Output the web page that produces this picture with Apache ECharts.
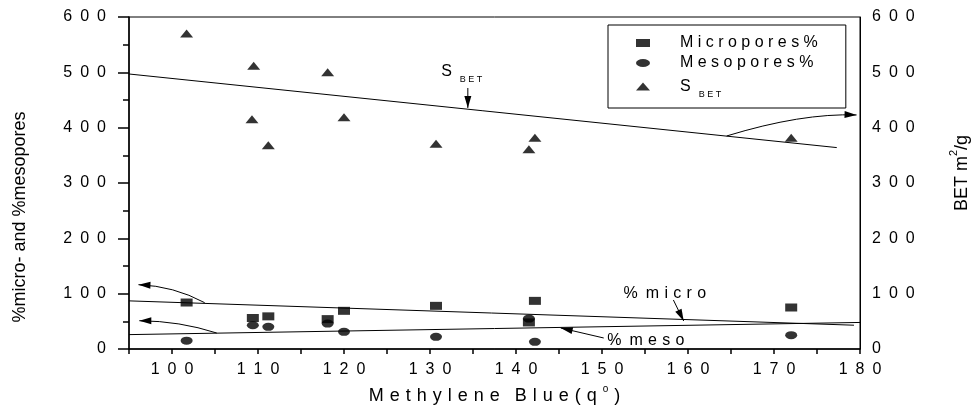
<!DOCTYPE html>
<html>
<head>
<meta charset="utf-8">
<script src="https://cdn.jsdelivr.net/npm/echarts@6/dist/echarts.min.js"></script>
<style>
  html, body { margin: 0; padding: 0; background: #fff; }
  #chart { width: 975px; height: 414px; }
</style>
</head>
<body>
<div id="chart"></div>
<script>
// values: Methylene Blue (x) vs pore fraction / BET area
const microMB = [101.7, 109.4, 111.2, 118.1, 120.0, 130.7, 142.2, 141.5, 172];
const microPct = [84, 56, 59, 54, 69, 78, 87, 48, 75];
const mesoMB = [101.7, 109.4, 111.2, 118.1, 120.0, 130.7, 142.2, 141.5, 172];
const mesoPct = [15, 43, 40, 46, 31, 22, 13, 55, 25];
const sbetMB = [101.7, 109.5, 118.1, 109.3, 111.2, 120.0, 130.7, 142.2, 141.5, 172];
const sbetVal = [570, 512, 500, 415, 368, 419, 371, 382, 361, 382];
// linear fits (end points)
const microFit = [[95, 87], [179.3, 43]];
const mesoFit = [[95, 26], [180, 48]];
const sbetFit = [[95, 497], [177.3, 364]];
const yTicks = [0, 100, 200, 300, 400, 500, 600];

const FONT = 'Liberation Sans, Arial, sans-serif';
const spaced = v => String(v).split('').join('\u2002');
const ellipse = 'path://M0,1a1,1 0 1,0 2,0a1,1 0 1,0 -2,0z';
const pairs = (xs, ys) => xs.map((x, i) => [x, ys[i]]);

const chart = echarts.init(document.getElementById('chart'));

const option = {
  animation: false,
  backgroundColor: '#fff',
  textStyle: { fontFamily: FONT, color: '#000' },
  grid: {
    left: 129, right: 115, top: 17, bottom: 65,
    show: true, borderColor: '#000', borderWidth: 1
  },
  legend: {
    orient: 'vertical',
    left: 608, top: 25,
    padding: [9, 28, 9, 28],
    borderColor: '#000', borderWidth: 1,
    itemWidth: 14, itemHeight: 8, itemGap: 2,
    symbolKeepAspect: false,
    data: [
      { name: 'Micropores%', icon: 'rect' },
      { name: 'Mesopores%', icon: ellipse },
      { name: 'SBET', icon: 'triangle' }
    ],
    formatter: name => name === 'SBET'
      ? '{s|S}{sub|B E T}'
      : name.split('').join(' '),
    textStyle: {
      fontFamily: FONT, fontSize: 16, color: '#000', lineHeight: 18,
      padding: [0, 0, 0, 25],
      rich: {
        s: { fontFamily: FONT, fontSize: 16, color: '#000', lineHeight: 18 },
        sub: { fontFamily: FONT, fontSize: 9, color: '#000', lineHeight: 9, padding: [16, 0, 0, 8] }
      }
    }
  },
  xAxis: {
    type: 'value',
    min: 95, max: 180, interval: 5,
    name: 'M\u2004e\u2004t\u2004h\u2004y\u2004l\u2004e\u2004n\u2004e\u2002\u2004B\u2004l\u2004u\u2004e\u2004(\u2004q\u2004{sup|o}\u2004)',
    nameLocation: 'middle', nameGap: 38,
    nameTextStyle: {
      fontFamily: FONT, fontSize: 18, color: '#000',
      rich: { sup: { fontFamily: FONT, fontSize: 10, color: '#000', lineHeight: 10, padding: [0, 0, 14, 0] } }
    },
    axisLine: { lineStyle: { color: '#000', width: 1.5 } },
    axisTick: { length: 5, lineStyle: { color: '#000', width: 1.5 } },
    axisLabel: {
      margin: 13, fontSize: 16, color: '#000', fontFamily: FONT,
      formatter: v => (v % 10 === 0 ? spaced(v) : '')
    },
    splitLine: { show: false }
  },
  yAxis: [{
    type: 'value',
    min: yTicks[0], max: yTicks[yTicks.length - 1], interval: 100,
    axisLine: { show: true, lineStyle: { color: '#000', width: 1.5 } },
    axisTick: { length: 11, lineStyle: { color: '#000', width: 1.5 } },
    minorTick: { show: true, splitNumber: 2, length: 6, lineStyle: { color: '#000', width: 1.5 } },
    axisLabel: { margin: 23, fontSize: 16, color: '#000', fontFamily: FONT, formatter: spaced },
    splitLine: { show: false }
  }, {
    type: 'value',
    position: 'right',
    min: yTicks[0], max: yTicks[yTicks.length - 1], interval: 100,
    axisLine: { show: true, lineStyle: { color: '#000', width: 1 } },
    axisTick: { show: false },
    axisLabel: { margin: 12, fontSize: 16, color: '#000', fontFamily: FONT, formatter: spaced },
    splitLine: { show: false }
  }],
  series: [{
    name: 'Micropores%', type: 'scatter',
    symbol: 'rect', symbolSize: [12, 8],
    itemStyle: { color: '#000' },
    data: pairs(microMB, microPct)
  }, {
    name: 'Mesopores%', type: 'scatter',
    symbol: ellipse, symbolSize: [12, 8],
    itemStyle: { color: '#000' },
    data: pairs(mesoMB, mesoPct)
  }, {
    name: 'SBET', type: 'scatter', yAxisIndex: 1,
    symbol: 'triangle', symbolSize: [13, 8],
    itemStyle: { color: '#000' },
    data: pairs(sbetMB, sbetVal)
  }, {
    name: 'micro fit', type: 'line', showSymbol: false, silent: true,
    lineStyle: { color: '#000', width: 1 }, data: microFit
  }, {
    name: 'meso fit', type: 'line', showSymbol: false, silent: true,
    lineStyle: { color: '#000', width: 1 }, data: mesoFit
  }, {
    name: 'SBET fit', type: 'line', yAxisIndex: 1, showSymbol: false, silent: true,
    lineStyle: { color: '#000', width: 1 }, data: sbetFit
  }]
};
chart.setOption(option);

// annotation arrows and labels, anchored in data coordinates
const toPx = p => chart.convertToPixel({ xAxisIndex: 0, yAxisIndex: 0 }, p);

function arrowHead(tip, prev) {
  let dx = tip[0] - prev[0], dy = tip[1] - prev[1];
  const len = Math.sqrt(dx * dx + dy * dy) || 1;
  dx /= len; dy /= len;
  const L = 12, W = 3.5;
  const bx = tip[0] - dx * L, by = tip[1] - dy * L;
  return {
    type: 'polygon', silent: true,
    shape: { points: [tip, [bx - dy * W, by + dx * W], [bx + dy * W, by - dx * W]] },
    style: { fill: '#000' }
  };
}

function curvedArrow(from, ctrl, to) {
  const a = toPx(from), c = toPx(ctrl), b = toPx(to);
  return [{
    type: 'bezierCurve', silent: true,
    shape: { x1: a[0], y1: a[1], cpx1: c[0], cpy1: c[1], x2: b[0], y2: b[1] },
    style: { stroke: '#000', lineWidth: 1, fill: null }
  }, arrowHead(b, c)];
}

function straightArrow(from, to) {
  const a = toPx(from), b = toPx(to);
  return [{
    type: 'line', silent: true,
    shape: { x1: a[0], y1: a[1], x2: b[0], y2: b[1] },
    style: { stroke: '#000', lineWidth: 1 }
  }, arrowHead(b, a)];
}

function label(pos, text, rich) {
  const p = toPx(pos);
  return {
    type: 'text', silent: true, x: p[0], y: p[1],
    style: {
      text: text, fill: '#000', fontFamily: FONT, fontSize: 16,
      textAlign: 'left', textVerticalAlign: 'middle', rich: rich
    }
  };
}

const subRich = {
  s: { fontFamily: FONT, fontSize: 16, fill: '#000', lineHeight: 18 },
  sub: { fontFamily: FONT, fontSize: 9, fill: '#000', lineHeight: 9, padding: [16, 0, 0, 8] }
};

const graphics = [].concat(
  curvedArrow([164.5, 385], [173.2, 426.5], [179.6, 423]),
  curvedArrow([103.8, 83.7], [100.2, 113.9], [96.1, 116.2]),
  curvedArrow([105.2, 28.9], [100.9, 50.6], [96.2, 51.1]),
  straightArrow([158.3, 88.6], [159.5, 50.6]),
  straightArrow([150.2, 19.9], [145.2, 38]),
  straightArrow([134.4, 471.7], [134.4, 435.6]),
  [
    label([131.3, 500.6], '{s|S}{sub|B E T}', subRich),
    label([152.5, 99.4], '%\u2002m\u2004i\u2004c\u2004r\u2004o'),
    label([150.6, 14.5], '%\u2002m\u2004e\u2004s\u2004o'),
    {
      type: 'text', silent: true, x: 20, y: 217, rotation: Math.PI / 2,
      style: {
        text: '%micro- and %mesopores', fill: '#000', fontFamily: FONT, fontSize: 18,
        textAlign: 'center', textVerticalAlign: 'middle'
      }
    },
    {
      type: 'text', silent: true, x: 962, y: 173, rotation: Math.PI / 2,
      style: {
        text: 'BET m{sup|2}/g', fill: '#000', fontFamily: FONT, fontSize: 18,
        textAlign: 'center', textVerticalAlign: 'middle',
        rich: { sup: { fontFamily: FONT, fontSize: 11, fill: '#000', lineHeight: 11, padding: [0, 0, 16, 0] } }
      }
    }
  ]
);
chart.setOption({ graphic: graphics });
</script>
</body>
</html>
